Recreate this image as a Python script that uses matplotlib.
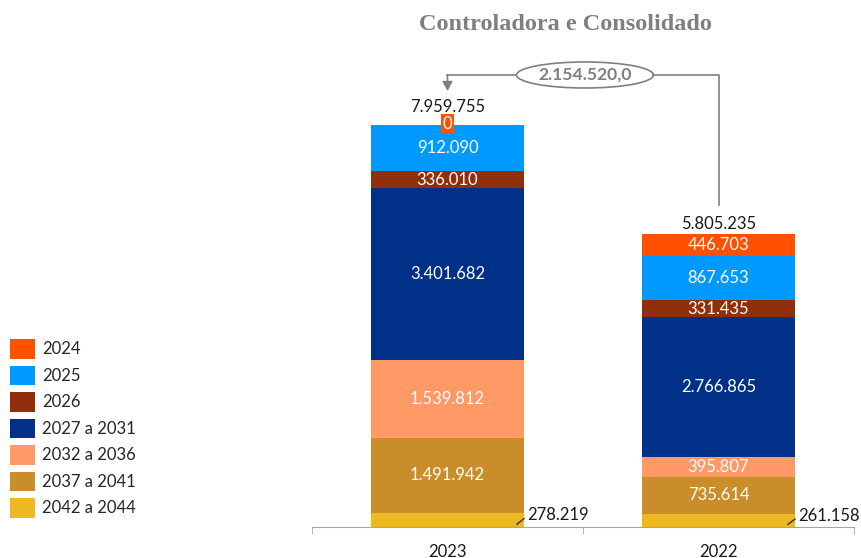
import matplotlib.pyplot as plt
from matplotlib.patches import Ellipse

# data
categories = ['2023', '2022']
series_names = ['2024', '2025', '2026', '2027 a 2031', '2032 a 2036', '2037 a 2041', '2042 a 2044']
# stacked from top (2024) to bottom (2042 a 2044)
values_2023 = [0, 912090, 336010, 3401682, 1539812, 1491942, 278219]
values_2022 = [446703, 867653, 331435, 2766865, 395807, 735614, 261158]
colors = ['#FF5100', '#0099FF', '#922F0B', '#003087', '#FF9966', '#C98E2A', '#EDB822']

plt.rcParams['font.family'] = ['Lato', 'DejaVu Sans']


def fmt(v):
    return '{:,}'.format(v).replace(',', '.')


fig = plt.figure(figsize=(8.62, 5.58), dpi=100)
ax = fig.add_axes([312 / 862, 31 / 558, 542 / 862, 527 / 558])

data = [values_2023, values_2022]
totals = [sum(v) for v in data]
px_per_unit = 402 / totals[0]
ax.set_ylim(0, 527 / px_per_unit)
ax.set_xlim(-0.5, 1.5)
width = 0.565

handles = []
for i, cat_vals in enumerate(data):
    bottom = 0
    # draw from the bottom series upwards
    for j in reversed(range(len(series_names))):
        v = cat_vals[j]
        b = ax.bar(i, v, width, bottom=bottom, color=colors[j], label=series_names[j] if i == 0 else None)
        if i == 0:
            handles.append((j, b))
        mid = bottom + v / 2
        if j == len(series_names) - 1:
            # small bottom segment: label outside with leader line
            x1 = i + width / 2
            ax.plot([x1 - 0.026, x1], [bottom + v * 0.2, bottom + v * 0.6], color='#404040', lw=1.1)
            ax.text(x1 + 0.012, bottom + v * 0.85, fmt(v), ha='left', va='center', fontsize=12, color='#1a1a1a')
        elif v == 0:
            ax.text(i, bottom + 0.9 / px_per_unit, fmt(v), ha='center', va='center', fontsize=12, color='white',
                    bbox=dict(boxstyle='square,pad=0.12', fc=colors[j], ec='none'))
        else:
            ax.text(i, mid, fmt(v), ha='center', va='center', fontsize=12, color='white')
        bottom += v

# totals
total_offsets = [18, 10]
for i, t in enumerate(totals):
    ax.annotate(fmt(t), (i, t), xytext=(0, total_offsets[i] * 0.72), textcoords='offset points',
                ha='center', va='center', fontsize=12, color='#1a1a1a')

# difference bracket
diff = totals[0] - totals[1]
diff_label = fmt(diff) + ',0'
yb = (527 - 75) / 527
trans = ax.get_xaxis_transform()
ell_cx = (585 - 312) / 271 - 0.5
ell_w = (653 - 516) / 271
ell_h = 26 / 527
gray = '#7F7F7F'
ax.plot([ell_cx + ell_w / 2, 1, 1], [yb, yb, (527 - 205) / 527], color=gray, lw=1.2,
        transform=trans, clip_on=False)
ax.plot([ell_cx - ell_w / 2, 0], [yb, yb], color=gray, lw=1.2, transform=trans, clip_on=False)
ax.annotate('', xy=(0, (527 - 91) / 527), xycoords=trans, xytext=(0, yb), textcoords=trans,
            arrowprops=dict(arrowstyle='-|>,head_width=0.3,head_length=0.55', color=gray, lw=1.2,
                            shrinkA=0, shrinkB=0))
ax.add_patch(Ellipse((ell_cx, yb), ell_w, ell_h, transform=trans, fc='white', ec=gray, lw=1.2, clip_on=False))
ax.text(ell_cx, yb, diff_label, transform=trans, ha='center', va='center', fontsize=12.6,
        fontweight='bold', color=gray)

# title
fig.text(565 / 862, 1 - 24 / 558, 'Controladora e Consolidado', ha='center', va='center',
         fontsize=17.5, fontweight='bold', color=gray, family='Liberation Serif')

# axes styling
for s in ['top', 'right', 'left']:
    ax.spines[s].set_visible(False)
ax.spines['bottom'].set_color('#A6A6A6')
ax.set_yticks([])
ax.set_xticks([0, 1])
ax.set_xticklabels(categories, fontsize=12, color='#1a1a1a')
ax.tick_params(axis='x', which='major', length=0, pad=12)
ax.set_xticks([-0.5, 0.5, 1.5], minor=True)
ax.tick_params(axis='x', which='minor', length=5, color='#A6A6A6')

# legend (2024 on top)
handles.sort(key=lambda h: h[0])
leg = ax.legend([h[1] for h in handles], series_names, loc='upper left',
                bbox_to_anchor=(10 / 862, 1 - 339 / 558), bbox_transform=fig.transFigure,
                frameon=False, fontsize=12, handlelength=1.5, handleheight=1.44,
                labelspacing=0.41, handletextpad=0.42, borderpad=0, borderaxespad=0)
for t in leg.get_texts():
    t.set_color('#262626')

fig.savefig('out.png', dpi=100)
